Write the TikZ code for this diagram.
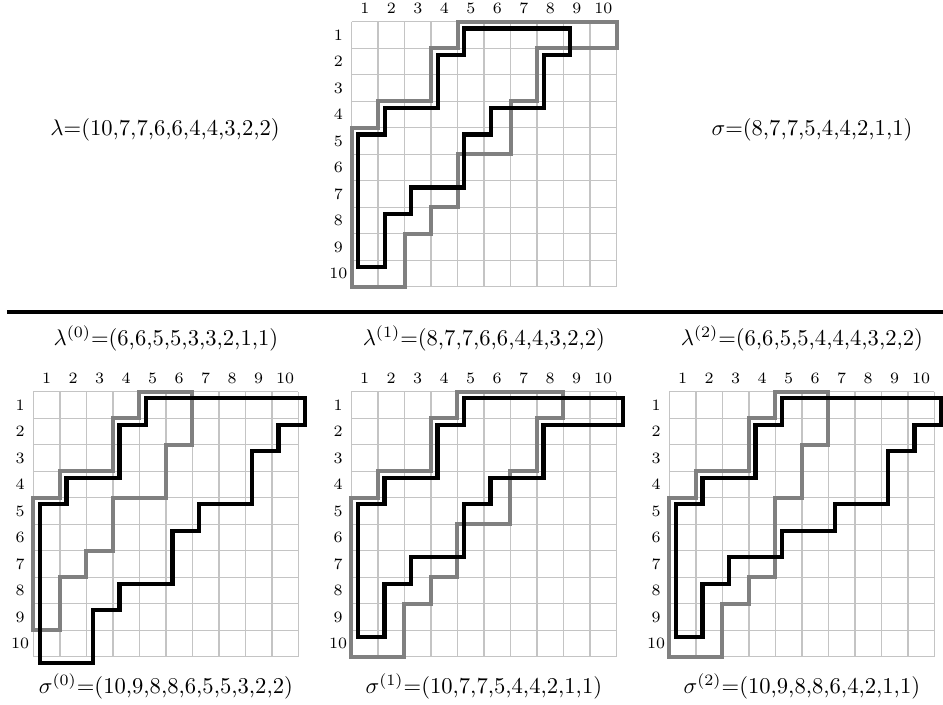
\documentclass[tikz,border=0pt]{standalone}
\usetikzlibrary{positioning}
\definecolor{BoardGrey}{RGB}{196,196,196}
\definecolor{LamGrey}{RGB}{128,128,128}
\tikzset{
  board/.style={draw=BoardGrey,line width=0.6pt},
  lampath/.style={draw=LamGrey,line width=1.8pt},
  sigpath/.style={draw=black,line width=1.9pt},
  idx/.style={font=\scriptsize,inner sep=0pt},
  partlabel/.style={anchor=base,inner sep=0pt},
  divider/.style={draw=black,line width=1.8pt}
}
% skew shape: left edge fixed, #2 = row lengths
\newcommand{\skewshape}[2]{%
  \draw[#1] (4,0) foreach \len [count=\row] in {#2} { -- (\len,\row-1) -- (\len,\row) }
    -| (0,4) -- (1,4) -- (1,3) -- (3,3) -- (3,1) -- (4,1) -- cycle;
}
% 10x10 board with indices, lambda (grey) and sigma (black)
\newcommand{\tableau}[3]{%
  \foreach \i in {0,...,10} {
    \draw[board] (\i,0) -- (\i,10);
    \draw[board] (0,\i) -- (10,\i);
  }
  \foreach \i in {1,...,10} {
    \node[idx] (#1c\i) at (\i-0.5,-0.5) {\i};
    \node[idx] (#1r\i) at (-0.5,\i-0.5) {\i};
  }
  \skewshape{lampath}{#2}
  \skewshape{sigpath,shift={(0.25,0.25)}}{#3}
}

\begin{document}
\begin{tikzpicture}[x=0.4121cm,y=-0.4121cm]
  \useasboundingbox (0,0) rectangle (35.585,26.566);

  % top board
  \begin{scope}[shift={(13.27,0.82)}]
    \tableau{t}{10,7,7,6,6,4,4,3,2,2}{8,7,7,5,4,4,2,1,1}
  \end{scope}
  \node[partlabel] (lam) at (6.23,5.1) {$\lambda$=(10,7,7,6,6,4,4,3,2,2)};
  \node[partlabel] (sig) at (30.64,5.1) {$\sigma$=(8,7,7,5,4,4,2,1,1)};

  \coordinate (ruleL) at (0.26,11.79);
  \coordinate (ruleR) at (35.6,11.79);
  \draw[divider] (ruleL) -- (ruleR);

  % lower boards
  \begin{scope}[shift={(1.26,14.78)}]
    \tableau{a}{6,6,5,5,3,3,2,1,1}{10,9,8,8,6,5,5,3,2,2}
    \node[partlabel] (lam0) at (5,-1.75) {$\lambda^{(0)}$=(6,6,5,5,3,3,2,1,1)};
    \node[partlabel] (sig0) at (5,11.4) {$\sigma^{(0)}$=(10,9,8,8,6,5,5,3,2,2)};
  \end{scope}
  \begin{scope}[shift={(13.26,14.78)}]
    \tableau{b}{8,7,7,6,6,4,4,3,2,2}{10,7,7,5,4,4,2,1,1}
    \node[partlabel] (lam1) at (5,-1.75) {$\lambda^{(1)}$=(8,7,7,6,6,4,4,3,2,2)};
    \node[partlabel] (sig1) at (5,11.4) {$\sigma^{(1)}$=(10,7,7,5,4,4,2,1,1)};
  \end{scope}
  \begin{scope}[shift={(25.26,14.78)}]
    \tableau{c}{6,6,5,5,4,4,4,3,2,2}{10,9,8,8,6,4,2,1,1}
    \node[partlabel] (lam2) at (5,-1.75) {$\lambda^{(2)}$=(6,6,5,5,4,4,4,3,2,2)};
    \node[partlabel] (sig2) at (5,11.4) {$\sigma^{(2)}$=(10,9,8,8,6,4,2,1,1)};
  \end{scope}
\end{tikzpicture}
\end{document}
